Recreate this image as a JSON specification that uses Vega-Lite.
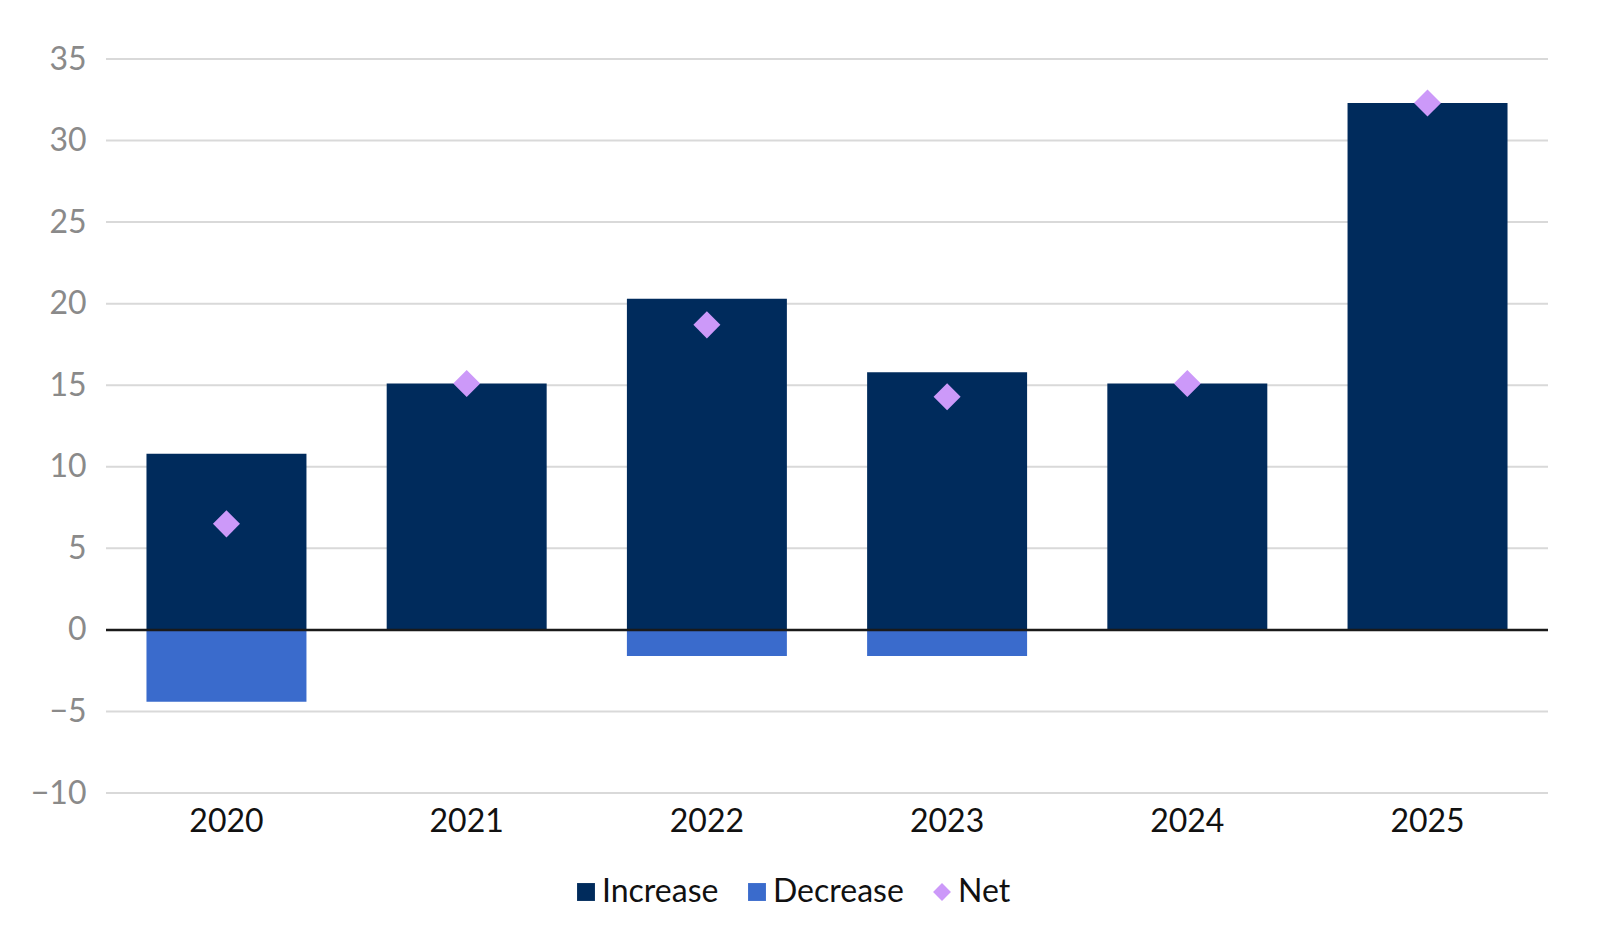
{
  "$schema": "https://vega.github.io/schema/vega-lite/v6.json",
  "width": 1442,
  "height": 734,
  "autosize": {"type": "none"},
  "padding": {"left": 106, "top": 59, "right": 60, "bottom": 143},
  "background": "white",
  "data": {
    "values": [
      {"year": "2020", "series": "Increase", "value": 10.8},
      {"year": "2020", "series": "Decrease", "value": -4.4},
      {"year": "2020", "series": "Net", "value": 6.5},
      {"year": "2021", "series": "Increase", "value": 15.1},
      {"year": "2021", "series": "Decrease", "value": 0},
      {"year": "2021", "series": "Net", "value": 15.1},
      {"year": "2022", "series": "Increase", "value": 20.3},
      {"year": "2022", "series": "Decrease", "value": -1.6},
      {"year": "2022", "series": "Net", "value": 18.7},
      {"year": "2023", "series": "Increase", "value": 15.8},
      {"year": "2023", "series": "Decrease", "value": -1.6},
      {"year": "2023", "series": "Net", "value": 14.3},
      {"year": "2024", "series": "Increase", "value": 15.1},
      {"year": "2024", "series": "Decrease", "value": 0},
      {"year": "2024", "series": "Net", "value": 15.1},
      {"year": "2025", "series": "Increase", "value": 32.3},
      {"year": "2025", "series": "Decrease", "value": 0},
      {"year": "2025", "series": "Net", "value": 32.3}
    ]
  },
  "encoding": {
    "x": {
      "field": "year",
      "type": "nominal",
      "scale": {"paddingInner": 0.334, "paddingOuter": 0.1685},
      "axis": {"title": null, "labelAngle": 0, "labelColor": "#111111", "labelPadding": 13, "labelDx": 8, "grid": false}
    }
  },
  "layer": [
    {
      "mark": {"type": "rule", "color": "#d9d9d9", "strokeWidth": 2},
      "data": {"values": [{"v": -10}, {"v": -5}, {"v": 5}, {"v": 10}, {"v": 15}, {"v": 20}, {"v": 25}, {"v": 30}, {"v": 35}]},
      "encoding": {
        "x": null,
        "y": {"field": "v", "type": "quantitative", "scale": {"domain": [-10, 35], "nice": false}}
      }
    },
    {
      "transform": [{"filter": "datum.series !== 'Net'"}],
      "mark": {"type": "bar"},
      "encoding": {
        "y": {
          "field": "value",
          "type": "quantitative",
          "stack": null,
          "scale": {"domain": [-10, 35], "nice": false},
          "axis": {"title": null, "values": [-10, -5, 0, 5, 10, 15, 20, 25, 30, 35], "labelColor": "#8a8a8a", "labelPadding": 20, "grid": false}
        },
        "color": {
          "field": "series",
          "type": "nominal",
          "scale": {"domain": ["Increase", "Decrease", "Net"], "range": ["#002b5c", "#3a6bcc", "#cc99f9"]}
        }
      }
    },
    {
      "mark": {"type": "rule", "color": "#1a1a1a", "strokeWidth": 2.5},
      "data": {"values": [{"v": 0}]},
      "encoding": {
        "x": null,
        "y": {"field": "v", "type": "quantitative"}
      }
    },
    {
      "transform": [{"filter": "datum.series === 'Net'"}],
      "mark": {"type": "point", "filled": true, "opacity": 1, "size": 730},
      "encoding": {
        "y": {"field": "value", "type": "quantitative"},
        "color": {"field": "series", "type": "nominal"},
        "shape": {
          "field": "series",
          "type": "nominal",
          "scale": {"domain": ["Increase", "Decrease", "Net"], "range": ["square", "square", "diamond"]}
        }
      }
    }
  ],
  "resolve": {"legend": {"color": "shared", "shape": "shared"}},
  "config": {
    "view": {"stroke": null},
    "font": "Lato",
    "axis": {"labelFont": "Lato", "labelFontSize": 32, "ticks": false, "domain": false},
    "axisX": {"labelDx": 8},
    "legend": {
      "title": null,
      "orient": "none",
      "direction": "horizontal",
      "legendX": 464,
      "legendY": 817,
      "labelFont": "Lato",
      "labelFontSize": 32,
      "labelColor": "#111111",
      "symbolSize": 320,
      "symbolOpacity": 1,
      "labelOffset": 0,
      "columnPadding": 22
    }
  }
}
